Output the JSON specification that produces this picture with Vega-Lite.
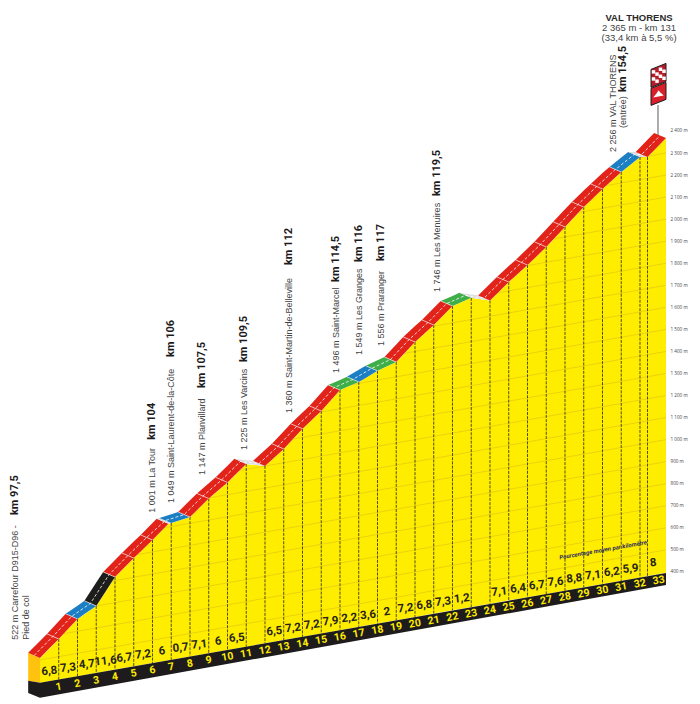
{"$schema":"https://vega.github.io/schema/vega-lite/v6.json","width":639,"height":704,"autosize":"none","padding":{"left":27,"right":34,"top":0,"bottom":0},"background":"white","config":{"view":{"stroke":null}},
"datasets":{
"profile":[{"k":0,"y":10,"base":-103},{"k":1,"y":96,"base":-88},{"k":2,"y":187,"base":-73},{"k":3,"y":246,"base":-58},{"k":4,"y":377,"base":-43},{"k":5,"y":463,"base":-28},{"k":6,"y":545,"base":-13},{"k":6.85,"y":618,"base":-1},{"k":7,"y":622,"base":2},{"k":8,"y":649,"base":17},{"k":9,"y":733,"base":31},{"k":10,"y":806,"base":46},{"k":11,"y":890,"base":61},{"k":12,"y":881,"base":76},{"k":13,"y":958,"base":91},{"k":14,"y":1049,"base":106},{"k":15,"y":1130,"base":121},{"k":16,"y":1225,"base":136},{"k":17,"y":1262,"base":151},{"k":18,"y":1312,"base":166},{"k":19,"y":1352,"base":181},{"k":20,"y":1443,"base":196},{"k":21,"y":1520,"base":211},{"k":22,"y":1606,"base":226},{"k":23,"y":1643,"base":241},{"k":24,"y":1631,"base":256},{"k":25,"y":1715,"base":271},{"k":26,"y":1792,"base":285},{"k":27,"y":1874,"base":300},{"k":28,"y":1965,"base":315},{"k":29,"y":2055,"base":330},{"k":30,"y":2137,"base":345},{"k":31,"y":2214,"base":360},{"k":32,"y":2282,"base":375},{"k":32.4,"y":2282,"base":381},{"k":33.387,"y":2368,"base":396}],
"ticks":[{"k":1,"y":96,"base":-88},{"k":2,"y":187,"base":-73},{"k":3,"y":246,"base":-58},{"k":4,"y":377,"base":-43},{"k":5,"y":463,"base":-28},{"k":6,"y":545,"base":-13},{"k":7,"y":622,"base":2},{"k":8,"y":649,"base":17},{"k":9,"y":733,"base":31},{"k":10,"y":806,"base":46},{"k":11,"y":890,"base":61},{"k":12,"y":881,"base":76},{"k":13,"y":958,"base":91},{"k":14,"y":1049,"base":106},{"k":15,"y":1130,"base":121},{"k":16,"y":1225,"base":136},{"k":17,"y":1262,"base":151},{"k":18,"y":1312,"base":166},{"k":19,"y":1352,"base":181},{"k":20,"y":1443,"base":196},{"k":21,"y":1520,"base":211},{"k":22,"y":1606,"base":226},{"k":23,"y":1643,"base":241},{"k":24,"y":1631,"base":256},{"k":25,"y":1715,"base":271},{"k":26,"y":1792,"base":285},{"k":27,"y":1874,"base":300},{"k":28,"y":1965,"base":315},{"k":29,"y":2055,"base":330},{"k":30,"y":2137,"base":345},{"k":31,"y":2214,"base":360},{"k":32,"y":2282,"base":375},{"k":32.4,"y":2282,"base":381}],
"grid":[{"g":500,"k":0,"y":1},{"g":500,"k":33.387,"y":500},{"g":600,"k":0,"y":101},{"g":600,"k":33.387,"y":600},{"g":700,"k":0,"y":201},{"g":700,"k":33.387,"y":700},{"g":800,"k":0,"y":301},{"g":800,"k":33.387,"y":800},{"g":900,"k":0,"y":401},{"g":900,"k":33.387,"y":900},{"g":1000,"k":0,"y":501},{"g":1000,"k":33.387,"y":1000},{"g":1100,"k":0,"y":601},{"g":1100,"k":33.387,"y":1100},{"g":1200,"k":0,"y":701},{"g":1200,"k":33.387,"y":1200},{"g":1300,"k":0,"y":801},{"g":1300,"k":33.387,"y":1300},{"g":1400,"k":0,"y":901},{"g":1400,"k":33.387,"y":1400},{"g":1500,"k":0,"y":1001},{"g":1500,"k":33.387,"y":1500},{"g":1600,"k":0,"y":1101},{"g":1600,"k":33.387,"y":1600},{"g":1700,"k":0,"y":1201},{"g":1700,"k":33.387,"y":1700},{"g":1800,"k":0,"y":1301},{"g":1800,"k":33.387,"y":1800},{"g":1900,"k":0,"y":1401},{"g":1900,"k":33.387,"y":1900},{"g":2000,"k":0,"y":1501},{"g":2000,"k":33.387,"y":2000},{"g":2100,"k":0,"y":1601},{"g":2100,"k":33.387,"y":2100},{"g":2200,"k":0,"y":1701},{"g":2200,"k":33.387,"y":2200},{"g":2300,"k":0,"y":1801},{"g":2300,"k":33.387,"y":2300}],
"base":[{"k":-0.63,"y":-94,"y2":-149},{"k":0,"y":-103,"y2":-171},{"k":33.387,"y":395,"y2":341}],
"front":[{"k":-0.63,"y":33,"y2":-94},{"k":0,"y":10,"y2":-103}],
"band":[
{"s":1,"c":"red","k":-0.63,"y":33,"y2":33},{"s":1,"c":"red","k":0,"y":10,"y2":87},{"s":1,"c":"red","k":0.37,"y":42,"y2":119},{"s":1,"c":"red","k":1,"y":96,"y2":96},
{"s":2,"c":"red","k":0.37,"y":119,"y2":119},{"s":2,"c":"red","k":1,"y":96,"y2":176},{"s":2,"c":"red","k":1.37,"y":130,"y2":210},{"s":2,"c":"red","k":2,"y":187,"y2":187},
{"s":3,"c":"blue","k":1.37,"y":210,"y2":210},{"s":3,"c":"blue","k":2,"y":187,"y2":247},{"s":3,"c":"blue","k":2.37,"y":209,"y2":269},{"s":3,"c":"blue","k":3,"y":246,"y2":246},
{"s":4,"c":"black","k":2.37,"y":269,"y2":269},{"s":4,"c":"black","k":3,"y":246,"y2":352},{"s":4,"c":"black","k":3.37,"y":294,"y2":400},{"s":4,"c":"black","k":4,"y":377,"y2":377},
{"s":5,"c":"red","k":3.37,"y":400,"y2":400},{"s":5,"c":"red","k":4,"y":377,"y2":454},{"s":5,"c":"red","k":4.37,"y":409,"y2":486},{"s":5,"c":"red","k":5,"y":463,"y2":463},
{"s":6,"c":"red","k":4.37,"y":486,"y2":486},{"s":6,"c":"red","k":5,"y":463,"y2":538},{"s":6,"c":"red","k":5.37,"y":493,"y2":568},{"s":6,"c":"red","k":6,"y":545,"y2":545},
{"s":7,"c":"red","k":5.37,"y":568,"y2":568},{"s":7,"c":"red","k":6,"y":545,"y2":622},{"s":7,"c":"red","k":6.22,"y":564,"y2":641},{"s":7,"c":"red","k":6.85,"y":618,"y2":618},
{"s":8,"c":"grey","k":6.22,"y":641,"y2":641},{"s":8,"c":"grey","k":6.37,"y":635,"y2":645},{"s":8,"c":"grey","k":6.85,"y":618,"y2":627},{"s":8,"c":"grey","k":7,"y":622,"y2":622},
{"s":9,"c":"blue","k":6.37,"y":645,"y2":645},{"s":9,"c":"blue","k":7,"y":622,"y2":662},{"s":9,"c":"blue","k":7.37,"y":632,"y2":672},{"s":9,"c":"blue","k":8,"y":649,"y2":649},
{"s":10,"c":"red","k":7.37,"y":672,"y2":672},{"s":10,"c":"red","k":8,"y":649,"y2":725},{"s":10,"c":"red","k":8.37,"y":680,"y2":756},{"s":10,"c":"red","k":9,"y":733,"y2":733},
{"s":11,"c":"red","k":8.37,"y":756,"y2":756},{"s":11,"c":"red","k":9,"y":733,"y2":802},{"s":11,"c":"red","k":9.37,"y":760,"y2":829},{"s":11,"c":"red","k":10,"y":806,"y2":806},
{"s":12,"c":"red","k":9.37,"y":829,"y2":829},{"s":12,"c":"red","k":10,"y":806,"y2":882},{"s":12,"c":"red","k":10.37,"y":837,"y2":913},{"s":12,"c":"red","k":11,"y":890,"y2":890},
{"s":13,"c":"grey","k":10.37,"y":913,"y2":913},{"s":13,"c":"grey","k":11,"y":890,"y2":907},{"s":13,"c":"grey","k":11.37,"y":887,"y2":904},{"s":13,"c":"grey","k":12,"y":881,"y2":881},
{"s":14,"c":"red","k":11.37,"y":904,"y2":904},{"s":14,"c":"red","k":12,"y":881,"y2":953},{"s":14,"c":"red","k":12.37,"y":909,"y2":981},{"s":14,"c":"red","k":13,"y":958,"y2":958},
{"s":15,"c":"red","k":12.37,"y":981,"y2":981},{"s":15,"c":"red","k":13,"y":958,"y2":1038},{"s":15,"c":"red","k":13.37,"y":992,"y2":1072},{"s":15,"c":"red","k":14,"y":1049,"y2":1049},
{"s":16,"c":"red","k":13.37,"y":1072,"y2":1072},{"s":16,"c":"red","k":14,"y":1049,"y2":1123},{"s":16,"c":"red","k":14.37,"y":1079,"y2":1153},{"s":16,"c":"red","k":15,"y":1130,"y2":1130},
{"s":17,"c":"red","k":14.37,"y":1153,"y2":1153},{"s":17,"c":"red","k":15,"y":1130,"y2":1213},{"s":17,"c":"red","k":15.37,"y":1165,"y2":1248},{"s":17,"c":"red","k":16,"y":1225,"y2":1225},
{"s":18,"c":"green","k":15.37,"y":1248,"y2":1248},{"s":18,"c":"green","k":16,"y":1225,"y2":1271},{"s":18,"c":"green","k":16.37,"y":1239,"y2":1285},{"s":18,"c":"green","k":17,"y":1262,"y2":1262},
{"s":19,"c":"blue","k":16.37,"y":1285,"y2":1285},{"s":19,"c":"blue","k":17,"y":1262,"y2":1317},{"s":19,"c":"blue","k":17.37,"y":1280,"y2":1335},{"s":19,"c":"blue","k":18,"y":1312,"y2":1312},
{"s":20,"c":"green","k":17.37,"y":1335,"y2":1335},{"s":20,"c":"green","k":18,"y":1312,"y2":1360},{"s":20,"c":"green","k":18.37,"y":1327,"y2":1375},{"s":20,"c":"green","k":19,"y":1352,"y2":1352},
{"s":21,"c":"red","k":18.37,"y":1375,"y2":1375},{"s":21,"c":"red","k":19,"y":1352,"y2":1432},{"s":21,"c":"red","k":19.37,"y":1386,"y2":1466},{"s":21,"c":"red","k":20,"y":1443,"y2":1443},
{"s":22,"c":"red","k":19.37,"y":1466,"y2":1466},{"s":22,"c":"red","k":20,"y":1443,"y2":1515},{"s":22,"c":"red","k":20.37,"y":1471,"y2":1543},{"s":22,"c":"red","k":21,"y":1520,"y2":1520},
{"s":23,"c":"red","k":20.37,"y":1543,"y2":1543},{"s":23,"c":"red","k":21,"y":1520,"y2":1597},{"s":23,"c":"red","k":21.37,"y":1552,"y2":1629},{"s":23,"c":"red","k":22,"y":1606,"y2":1606},
{"s":24,"c":"green","k":21.37,"y":1629,"y2":1629},{"s":24,"c":"green","k":22,"y":1606,"y2":1652},{"s":24,"c":"green","k":22.37,"y":1620,"y2":1666},{"s":24,"c":"green","k":23,"y":1643,"y2":1643},
{"s":25,"c":"grey","k":22.37,"y":1666,"y2":1666},{"s":25,"c":"grey","k":23,"y":1643,"y2":1658},{"s":25,"c":"grey","k":23.37,"y":1639,"y2":1654},{"s":25,"c":"grey","k":24,"y":1631,"y2":1631},
{"s":26,"c":"red","k":23.37,"y":1654,"y2":1654},{"s":26,"c":"red","k":24,"y":1631,"y2":1707},{"s":26,"c":"red","k":24.37,"y":1662,"y2":1738},{"s":26,"c":"red","k":25,"y":1715,"y2":1715},
{"s":27,"c":"red","k":24.37,"y":1738,"y2":1738},{"s":27,"c":"red","k":25,"y":1715,"y2":1787},{"s":27,"c":"red","k":25.37,"y":1743,"y2":1815},{"s":27,"c":"red","k":26,"y":1792,"y2":1792},
{"s":28,"c":"red","k":25.37,"y":1815,"y2":1815},{"s":28,"c":"red","k":26,"y":1792,"y2":1867},{"s":28,"c":"red","k":26.37,"y":1822,"y2":1897},{"s":28,"c":"red","k":27,"y":1874,"y2":1874},
{"s":29,"c":"red","k":26.37,"y":1897,"y2":1897},{"s":29,"c":"red","k":27,"y":1874,"y2":1954},{"s":29,"c":"red","k":27.37,"y":1908,"y2":1988},{"s":29,"c":"red","k":28,"y":1965,"y2":1965},
{"s":30,"c":"red","k":27.37,"y":1988,"y2":1988},{"s":30,"c":"red","k":28,"y":1965,"y2":2045},{"s":30,"c":"red","k":28.37,"y":1998,"y2":2078},{"s":30,"c":"red","k":29,"y":2055,"y2":2055},
{"s":31,"c":"red","k":28.37,"y":2078,"y2":2078},{"s":31,"c":"red","k":29,"y":2055,"y2":2130},{"s":31,"c":"red","k":29.37,"y":2085,"y2":2160},{"s":31,"c":"red","k":30,"y":2137,"y2":2137},
{"s":32,"c":"red","k":29.37,"y":2160,"y2":2160},{"s":32,"c":"red","k":30,"y":2137,"y2":2209},{"s":32,"c":"red","k":30.37,"y":2165,"y2":2237},{"s":32,"c":"red","k":31,"y":2214,"y2":2214},
{"s":33,"c":"blue","k":30.37,"y":2237,"y2":2237},{"s":33,"c":"blue","k":31,"y":2214,"y2":2280},{"s":33,"c":"blue","k":31.37,"y":2239,"y2":2305},{"s":33,"c":"blue","k":32,"y":2282,"y2":2282},
{"s":34,"c":"grey","k":31.37,"y":2305,"y2":2305},{"s":34,"c":"grey","k":31.77,"y":2290,"y2":2305},{"s":34,"c":"grey","k":32,"y":2282,"y2":2297},{"s":34,"c":"grey","k":32.4,"y":2282,"y2":2282},
{"s":35,"c":"red","k":31.77,"y":2305,"y2":2305},{"s":35,"c":"red","k":32.4,"y":2282,"y2":2360},{"s":35,"c":"red","k":32.757,"y":2313,"y2":2391},{"s":35,"c":"red","k":33.387,"y":2368,"y2":2368}],
"seams":[{"k":1,"y":96,"k2":0.37,"y2":119},{"k":2,"y":187,"k2":1.37,"y2":210},{"k":3,"y":246,"k2":2.37,"y2":269},{"k":4,"y":377,"k2":3.37,"y2":400},{"k":5,"y":463,"k2":4.37,"y2":486},{"k":6,"y":545,"k2":5.37,"y2":568},{"k":8,"y":649,"k2":7.37,"y2":672},{"k":9,"y":733,"k2":8.37,"y2":756},{"k":10,"y":806,"k2":9.37,"y2":829},{"k":13,"y":958,"k2":12.37,"y2":981},{"k":14,"y":1049,"k2":13.37,"y2":1072},{"k":15,"y":1130,"k2":14.37,"y2":1153},{"k":16,"y":1225,"k2":15.37,"y2":1248},{"k":17,"y":1262,"k2":16.37,"y2":1285},{"k":18,"y":1312,"k2":17.37,"y2":1335},{"k":19,"y":1352,"k2":18.37,"y2":1375},{"k":20,"y":1443,"k2":19.37,"y2":1466},{"k":21,"y":1520,"k2":20.37,"y2":1543},{"k":22,"y":1606,"k2":21.37,"y2":1629},{"k":25,"y":1715,"k2":24.37,"y2":1738},{"k":26,"y":1792,"k2":25.37,"y2":1815},{"k":27,"y":1874,"k2":26.37,"y2":1897},{"k":28,"y":1965,"k2":27.37,"y2":1988},{"k":29,"y":2055,"k2":28.37,"y2":2078},{"k":30,"y":2137,"k2":29.37,"y2":2160},{"k":31,"y":2214,"k2":30.37,"y2":2237}],
"centre":[{"k":-0.315,"y":21},{"k":0.685,"y":107},{"k":1.685,"y":198},{"k":2.685,"y":257},{"k":3.685,"y":388},{"k":4.685,"y":474},{"k":5.685,"y":556},{"k":6.685,"y":633},{"k":7.685,"y":660},{"k":8.685,"y":744},{"k":9.685,"y":817},{"k":10.685,"y":901},{"k":11.685,"y":892},{"k":12.685,"y":969},{"k":13.685,"y":1060},{"k":14.685,"y":1141},{"k":15.685,"y":1236},{"k":16.685,"y":1273},{"k":17.685,"y":1323},{"k":18.685,"y":1363},{"k":19.685,"y":1454},{"k":20.685,"y":1531},{"k":21.685,"y":1617},{"k":22.685,"y":1654},{"k":23.685,"y":1642},{"k":24.685,"y":1726},{"k":25.685,"y":1803},{"k":26.685,"y":1885},{"k":27.685,"y":1976},{"k":28.685,"y":2066},{"k":29.685,"y":2148},{"k":30.685,"y":2225},{"k":31.685,"y":2293},{"k":32.085,"y":2293},{"k":33.07,"y":2379}],
"kmLabels":[{"k":1,"y":-122,"t":"1"},{"k":2,"y":-107,"t":"2"},{"k":3,"y":-92,"t":"3"},{"k":4,"y":-77,"t":"4"},{"k":5,"y":-61,"t":"5"},{"k":6,"y":-46,"t":"6"},{"k":7,"y":-31,"t":"7"},{"k":8,"y":-16,"t":"8"},{"k":9,"y":-1,"t":"9"},{"k":10,"y":14,"t":"10"},{"k":11,"y":29,"t":"11"},{"k":12,"y":44,"t":"12"},{"k":13,"y":59,"t":"13"},{"k":14,"y":74,"t":"14"},{"k":15,"y":90,"t":"15"},{"k":16,"y":105,"t":"16"},{"k":17,"y":120,"t":"17"},{"k":18,"y":135,"t":"18"},{"k":19,"y":150,"t":"19"},{"k":20,"y":165,"t":"20"},{"k":21,"y":180,"t":"21"},{"k":22,"y":195,"t":"22"},{"k":23,"y":210,"t":"23"},{"k":24,"y":225,"t":"24"},{"k":25,"y":241,"t":"25"},{"k":26,"y":256,"t":"26"},{"k":27,"y":271,"t":"27"},{"k":28,"y":286,"t":"28"},{"k":29,"y":301,"t":"29"},{"k":30,"y":316,"t":"30"},{"k":31,"y":331,"t":"31"},{"k":32,"y":346,"t":"32"},{"k":33,"y":361,"t":"33"}],
"pct":[{"k":0.5,"y":-51,"t":"6,8"},{"k":1.5,"y":-36,"t":"7,3"},{"k":2.5,"y":-21,"t":"4,7"},{"k":3.5,"y":-6,"t":"11,6"},{"k":4.5,"y":9,"t":"6,7"},{"k":5.5,"y":24,"t":"7,2"},{"k":6.5,"y":39,"t":"6"},{"k":7.5,"y":54,"t":"0,7"},{"k":8.5,"y":69,"t":"7,1"},{"k":9.5,"y":84,"t":"6"},{"k":10.5,"y":99,"t":"6,5"},{"k":12.5,"y":129,"t":"6,5"},{"k":13.5,"y":144,"t":"7,2"},{"k":14.5,"y":159,"t":"7,2"},{"k":15.5,"y":174,"t":"7,9"},{"k":16.5,"y":189,"t":"2,2"},{"k":17.5,"y":203,"t":"3,6"},{"k":18.5,"y":218,"t":"2"},{"k":19.5,"y":233,"t":"7,2"},{"k":20.5,"y":248,"t":"6,8"},{"k":21.5,"y":263,"t":"7,3"},{"k":22.5,"y":278,"t":"1,2"},{"k":24.5,"y":308,"t":"7,1"},{"k":25.5,"y":323,"t":"6,4"},{"k":26.5,"y":338,"t":"6,7"},{"k":27.5,"y":353,"t":"7,6"},{"k":28.5,"y":368,"t":"8,8"},{"k":29.5,"y":383,"t":"7,1"},{"k":30.5,"y":398,"t":"6,2"},{"k":31.5,"y":413,"t":"5,9"},{"k":32.7,"y":440,"t":"8"}],
"places":[{"k":-1.33,"y":92,"t":"522 m Carrefour D915-D96 -"},{"k":-0.75,"y":92,"t":"Pied de col"},{"k":5.97,"y":668,"t":"1 001 m La Tour"},{"k":6.99,"y":713,"t":"1 049 m Saint-Laurent-de-la-Côte"},{"k":8.64,"y":840,"t":"1 147 m Planvillard"},{"k":10.88,"y":953,"t":"1 225 m Les Varcins"},{"k":13.28,"y":1121,"t":"1 360 m Saint-Martin-de-Belleville"},{"k":15.79,"y":1302,"t":"1 496 m Saint-Marcel"},{"k":17.01,"y":1384,"t":"1 549 m Les Granges"},{"k":18.19,"y":1425,"t":"1 556 m Praranger"},{"k":21.17,"y":1670,"t":"1 746 m Les Menuires"},{"k":30.56,"y":2305,"t":"2 256 m VAL THORENS"},{"k":31.09,"y":2414,"t":"(entrée)"}],
"kms":[{"k":-1.33,"y":658,"t":"km 97,5"},{"k":5.97,"y":999,"t":"km 104"},{"k":6.99,"y":1375,"t":"km 106"},{"k":8.64,"y":1234,"t":"km 107,5"},{"k":10.88,"y":1352,"t":"km 109,5"},{"k":13.28,"y":1792,"t":"km 112"},{"k":15.79,"y":1715,"t":"km 114,5"},{"k":17.01,"y":1806,"t":"km 116"},{"k":18.19,"y":1810,"t":"km 117"},{"k":21.17,"y":2105,"t":"km 119,5"},{"k":31.09,"y":2577,"t":"km 154,5"}]
},
"encoding":{"x":{"field":"k","type":"quantitative","axis":null,"scale":{"domain":[-0.693,33.387],"nice":false,"zero":false}},"y":{"field":"y","type":"quantitative","scale":{"domain":[-199,2994],"nice":false,"zero":false},"axis":{"orient":"right","values":[400,500,600,700,800,900,1000,1100,1200,1300,1400,1500,1600,1700,1800,1900,2000,2100,2200,2300,2400],"domain":false,"ticks":false,"grid":false,"title":null,"labelFont":"Open Sans","labelFontSize":4.6,"labelColor":"#444444","labelPadding":4,"labelOverlap":false,"labelExpr":"replace(format(datum.value, ','), ',', ' ') + ' m'"}}},
"layer":[
{"data":{"name":"profile"},"mark":{"type":"area","color":"#ffed00"},"encoding":{"y2":{"field":"base"}}},
{"data":{"name":"grid"},"mark":{"type":"line","color":"#e3cd12","strokeWidth":0.8},"encoding":{"detail":{"field":"g"}}},
{"data":{"name":"profile"},"mark":{"type":"area","color":"white"},"encoding":{"y2":{"datum":2994}}},
{"data":{"name":"ticks"},"mark":{"type":"rule","color":"#26231c","strokeWidth":0.8,"strokeDash":[3,1.2]},"encoding":{"y2":{"field":"base"}}},
{"data":{"name":"front"},"mark":{"type":"area","color":"#ffc20e"},"encoding":{"y2":{"field":"y2"}}},
{"data":{"name":"base"},"mark":{"type":"area","color":"#1e1b1c"},"encoding":{"y2":{"field":"y2"}}},
{"data":{"name":"band"},"mark":{"type":"area"},"encoding":{"y2":{"field":"y2"},"detail":{"field":"s"},"color":{"field":"c","type":"nominal","legend":null,"scale":{"domain":["red","blue","black","green","grey"],"range":["#e2231a","#1c7fc4","#1d1d1b","#3fae49","#dcdcdc"]}}}},
{"data":{"name":"seams"},"mark":{"type":"rule","color":"#efe6e0","strokeWidth":0.8,"opacity":0.85},"encoding":{"x2":{"field":"k2"},"y2":{"field":"y2"}}},
{"data":{"name":"centre"},"mark":{"type":"line","color":"white","strokeWidth":0.8,"strokeDash":[3,2]}},
{"data":{"name":"kmLabels"},"mark":{"type":"text","font":"Roboto","fontWeight":"bold","fontSize":10.5,"color":"#ffed00","angle":350,"align":"center","baseline":"middle"},"encoding":{"text":{"field":"t"}}},
{"data":{"name":"pct"},"mark":{"type":"text","font":"Roboto","fontWeight":"bold","fontSize":11.5,"color":"#26231c","angle":354,"align":"center","baseline":"middle"},"encoding":{"text":{"field":"t"}}},
{"data":{"name":"places"},"mark":{"type":"text","font":"Liberation Sans","fontSize":9,"color":"#444444","angle":270,"align":"left","baseline":"middle"},"encoding":{"text":{"field":"t"}}},
{"data":{"name":"kms"},"mark":{"type":"text","font":"Roboto","fontWeight":"bold","fontSize":11,"color":"#1e1b1c","angle":270,"align":"left","baseline":"middle"},"encoding":{"text":{"field":"t"}}},
{"data":{"values":[{"k":31.95,"y":2912,"t":"VAL THORENS"}]},"mark":{"type":"text","font":"Liberation Sans","fontWeight":"bold","fontSize":9.5,"color":"#2a2a2a","align":"center","baseline":"middle"},"encoding":{"text":{"field":"t"}}},
{"data":{"values":[{"k":31.95,"y":2865,"t":"2 365 m - km 131"},{"k":31.95,"y":2820,"t":"(33,4 km à 5,5 %)"}]},"mark":{"type":"text","font":"Liberation Sans","fontSize":9.5,"color":"#444444","align":"center","baseline":"middle"},"encoding":{"text":{"field":"t"}}},
{"data":{"values":[{"k":30.03,"y":500,"t":"Pourcentage moyen par kilomètre"}]},"mark":{"type":"text","font":"Roboto","fontWeight":"bold","fontStyle":"italic","fontSize":6,"color":"#2b2a5e","angle":350,"align":"center","baseline":"middle"},"encoding":{"text":{"field":"t"}}},
{"data":{"values":[{"k":32.96,"y":2518,"y2":2382}]},"mark":{"type":"rule","color":"#808080","strokeWidth":1.3},"encoding":{"y2":{"field":"y2"}}},
{"data":{"values":[{"k":32.987,"y":2652}]},"mark":{"type":"point","filled":true,"size":225,"fill":"#b51d2b","stroke":"#1e1b1c","strokeWidth":1,"opacity":1,"shape":"M-1,-0.8 L1,-1.6 L1,0.8 L-1,1.6 Z"}},
{"data":{"values":[{"k":32.72,"y":2668},{"k":33.093,"y":2680},{"k":32.907,"y":2658},{"k":33.28,"y":2671},{"k":32.72,"y":2636},{"k":33.093,"y":2648},{"k":32.907,"y":2626},{"k":33.28,"y":2639}]},"mark":{"type":"point","filled":true,"size":12,"fill":"white","opacity":1,"shape":"square"}},
{"data":{"values":[{"k":32.987,"y":2568}]},"mark":{"type":"point","filled":true,"size":225,"fill":"#d8202c","stroke":"#1e1b1c","strokeWidth":1,"opacity":1,"shape":"M-1,-0.73 L1,-1.53 L1,0.73 L-1,1.53 Z"}},
{"data":{"values":[{"k":32.987,"y":2568}]},"mark":{"type":"point","filled":true,"size":110,"fill":"white","opacity":1,"shape":"M-1,0.7 L-0.35,-0.15 L0,-0.7 L0.35,-0.25 L1,0.3 Z"}}
]}
